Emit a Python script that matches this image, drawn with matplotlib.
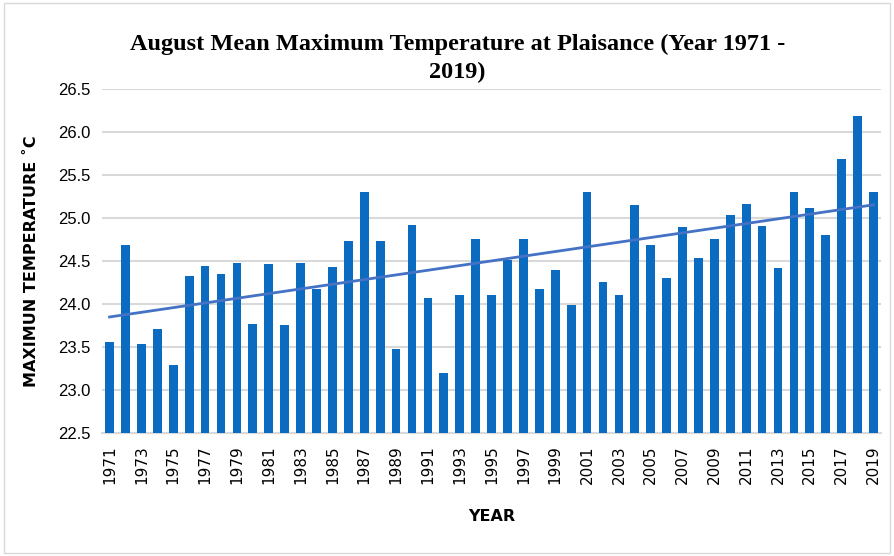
import numpy as np
import matplotlib
matplotlib.use("Agg")
import matplotlib.pyplot as plt
from matplotlib.patches import Rectangle

years = list(range(1971, 2020))
temps = [
    23.56, 24.69, 23.53, 23.71, 23.29, 24.32, 24.44, 24.35, 24.48, 23.77,
    24.46, 23.75, 24.48, 24.17, 24.43, 24.73, 25.30, 24.73, 23.48, 24.92,
    24.07, 23.20, 24.10, 24.76, 24.11, 24.51, 24.76, 24.18, 24.40, 23.99,
    25.30, 24.25, 24.10, 25.15, 24.69, 24.30, 24.89, 24.54, 24.75, 25.04,
    25.16, 24.91, 24.42, 25.30, 25.12, 24.80, 25.68, 26.18, 25.30,
]
yticks = [22.5, 23.0, 23.5, 24.0, 24.5, 25.0, 25.5, 26.0, 26.5]


def main():
    fig = plt.figure(figsize=(8.94, 5.56), dpi=100)
    ax = fig.add_axes([0.1137, 0.2212, 0.8723, 0.6188])

    x = np.arange(len(years))
    ax.bar(x, temps, width=0.55, color="#0A6BC1", zorder=3)

    # linear trendline like Excel
    k, b = np.polyfit(x, temps, 1)
    ax.plot(x, k * x + b, color="#4472C4", lw=2, zorder=4)

    ax.set_xlim(-0.5, len(years) - 0.5)
    ax.set_ylim(22.5, 26.5)
    ax.set_yticks(yticks)
    ax.set_yticklabels([f"{v:.1f}" for v in yticks], fontsize=12,
                       family="Liberation Sans")
    ax.set_xticks(x[::2])
    ax.set_xticklabels([str(y) for y in years[::2]], rotation=90,
                       fontsize=11, family="DejaVu Sans", fontweight="medium")
    ax.tick_params(axis="x", length=0, pad=9)
    ax.tick_params(axis="y", length=0, pad=8)
    ax.grid(axis="y", color="#d9d9d9", lw=1.5, zorder=0)
    for s in ["top", "right", "left"]:
        ax.spines[s].set_visible(False)
    ax.spines["bottom"].set_color("#d9d9d9")
    ax.spines["bottom"].set_linewidth(1.5)

    ax.set_xlabel("YEAR", fontsize=11.5, fontweight="bold", labelpad=18)
    ax.set_ylabel("MAXIMUN TEMPERATURE \u02daC", fontsize=11.5,
                  fontweight="bold", labelpad=14)

    fig.text(0.512, 0.94, "August Mean Maximum Temperature at Plaisance (Year 1971 -\n2019)",
             ha="center", va="top", fontsize=17.5, fontweight="bold",
             family="Liberation Serif", linespacing=1.45)

    fig.patches.append(Rectangle((0.005, 0.005), 0.99, 0.99, transform=fig.transFigure,
                                 fill=False, edgecolor="#d9d9d9", lw=1))

    fig.savefig("out.png", dpi=100)


if __name__ == "__main__":
    main()
